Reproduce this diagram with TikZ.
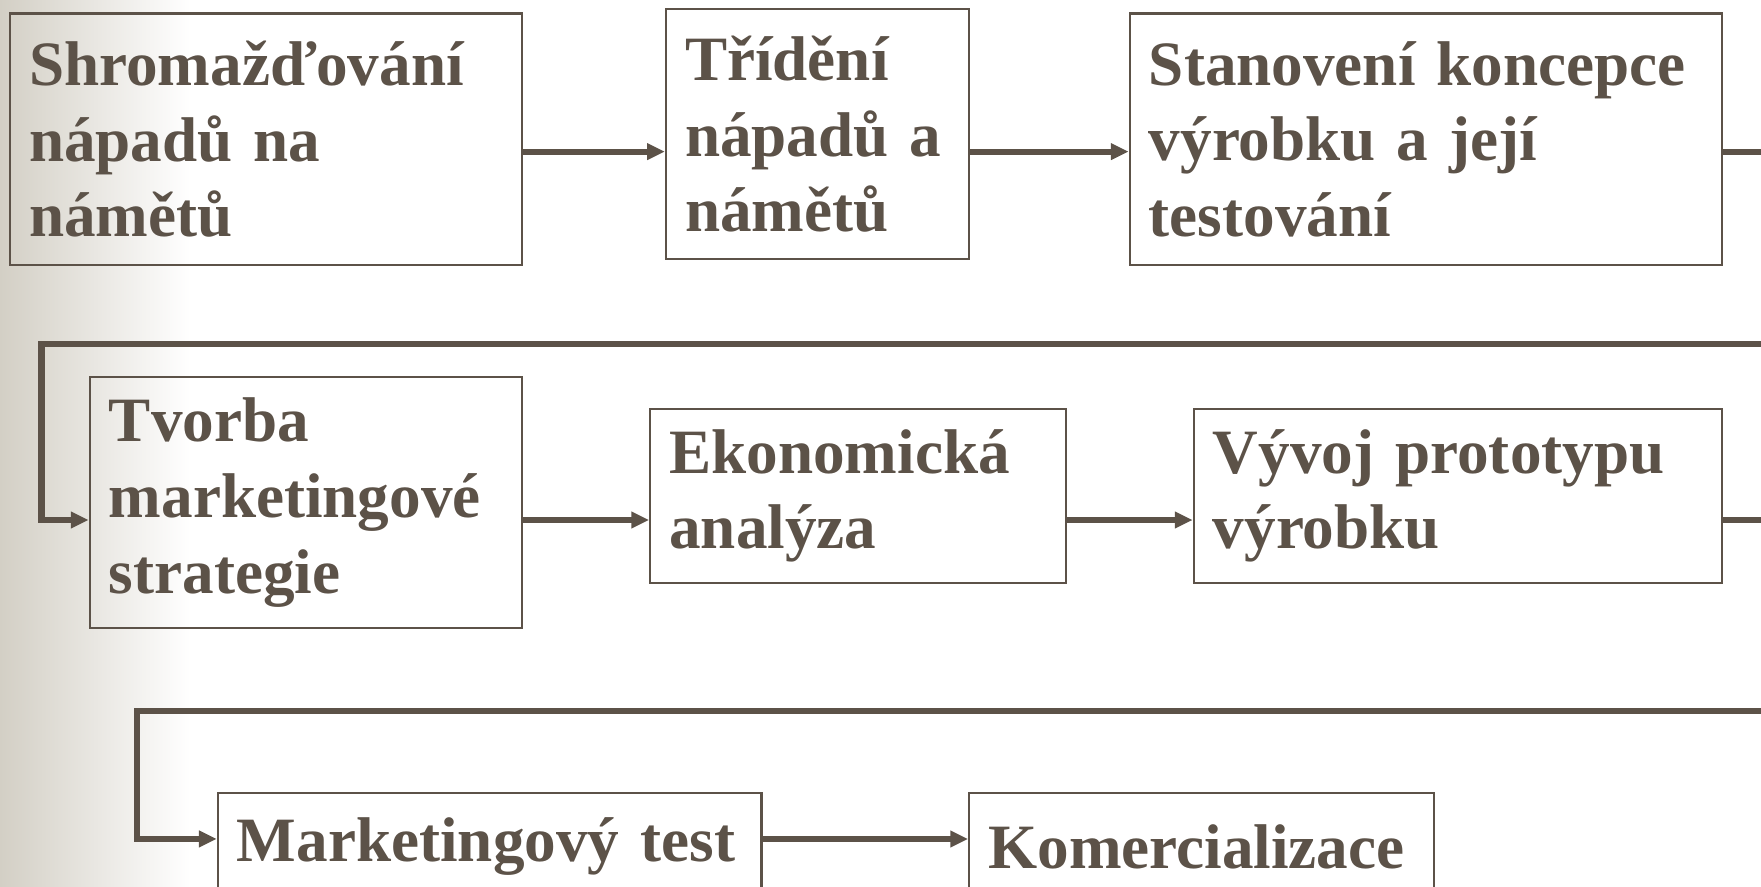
\documentclass[tikz,border=0pt]{standalone}
\usepackage{fontspec}
\setmainfont{Liberation Serif}
\usetikzlibrary{arrows.meta}
\definecolor{ink}{RGB}{92,82,72}
\definecolor{fade}{RGB}{211,207,197}

\begin{document}
\begin{tikzpicture}[
  stage/.style={draw=ink, line width=1.1pt, text=ink, anchor=north west, align=left,
    inner xsep=0.34cm, inner ysep=0pt, font=\fontsize{32}{38.4}\selectfont\bfseries},
  flow/.style={ink, line width=3.1pt, -{Triangle[length=9pt,width=8pt]}}
]

\path[use as bounding box] (0,0) rectangle (31.36,-15.78);
\clip (0,0) rectangle (31.36,-15.78);
\shade[left color=fade, right color=white] (0,0) rectangle (3.4,-15.78);

% levels of the arrows and the turns off the right edge
\coordinate (lv1) at (0,-2.70);
\coordinate (lv2) at (0,-9.26);
\coordinate (lv3) at (0,-14.94);
\coordinate (r1) at (32.2,-6.12);
\coordinate (l1) at (0.74,-6.12);
\coordinate (r2) at (32.2,-12.66);
\coordinate (l2) at (2.44,-12.66);

\node[stage, text width=8.44cm, minimum height=4.48cm] (ideas) at (0.16,-0.22) {Shromažďování\\nápadů na\\námětů};
\node[stage, text width=4.72cm, minimum height=4.46cm] (sort) at (11.84,-0.14) {Třídění\\nápadů a\\námětů};
\node[stage, text width=9.86cm, minimum height=4.48cm] (concept) at (20.10,-0.22) {Stanovení koncepce\\výrobku a její\\testování};

\node[stage, text width=7.02cm, minimum height=4.46cm] (strategy) at (1.58,-6.70) {Tvorba\\marketingové\\strategie};
\node[stage, text width=6.72cm, minimum height=3.10cm] (econ) at (11.56,-7.26) {Ekonomická\\analýza};
\node[stage, text width=8.72cm, minimum height=3.10cm] (proto) at (21.24,-7.26) {Vývoj prototypu\\výrobku};

\node[stage, text width=9.00cm, minimum height=1.92cm] (mtest) at (3.86,-14.10) {Marketingový test};
\node[stage, text width=7.60cm, minimum height=1.92cm] (comm) at (17.24,-14.10) {Komercializace};

\draw[flow] (ideas.east |- lv1) -- (sort.west |- lv1);
\draw[flow] (sort.east |- lv1) -- (concept.west |- lv1);
\draw[flow] (concept.east |- lv1) -| (r1) -- (l1) |- (strategy.west |- lv2);

\draw[flow] (strategy.east |- lv2) -- (econ.west |- lv2);
\draw[flow] (econ.east |- lv2) -- (proto.west |- lv2);
\draw[flow] (proto.east |- lv2) -| (r2) -- (l2) |- (mtest.west |- lv3);

\draw[flow] (mtest.east |- lv3) -- (comm.west |- lv3);

\end{tikzpicture}
\end{document}
